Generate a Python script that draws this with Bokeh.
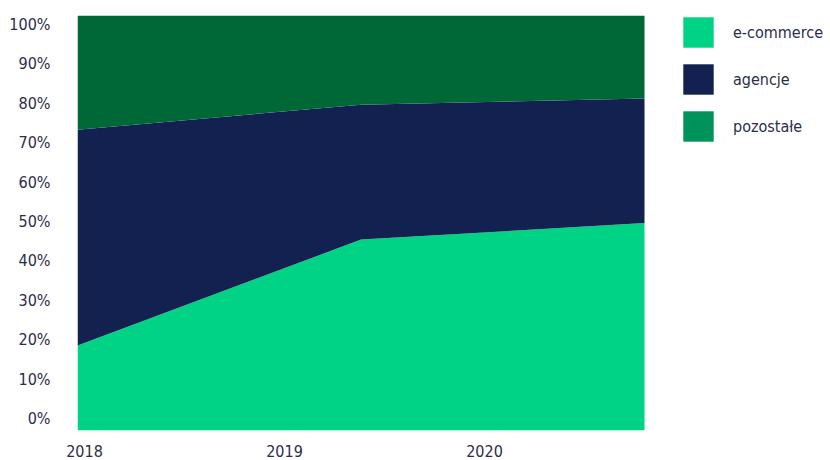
from bokeh.plotting import figure
from bokeh.models import (Range1d, LinearAxis, FixedTicker, Legend, LegendItem,
                          ColumnDataSource, PrintfTickFormatter)
from bokeh.embed import file_html
from bokeh.resources import INLINE

# ---- data ----
years = [2018, 2019, 2020]
ecommerce = [20.5, 46.0, 50.0]
agencje = [52.0, 32.5, 30.0]
pozostale = [27.5, 21.5, 20.0]
series_names = ["e-commerce", "agencje", "pozostałe"]
year_ticks = [2018, 2019, 2020]
pct_ticks = [0, 10, 20, 30, 40, 50, 60, 70, 80, 90, 100]

# ---- styles ----
area_colors = ["#00d385", "#12214f", "#006837"]
legend_colors = ["#00d385", "#12214f", "#00925b"]
text_color = "#2b2d4a"
font = "DejaVu Sans Condensed"

src = ColumnDataSource(data=dict(year=years, ecommerce=ecommerce,
                                 agencje=agencje, pozostale=pozostale))

# the frame extends to the right edge so the legend sits inside it;
# the areas end at 2020 (x = 644 px)
p = figure(width=830, height=460, output_backend="svg", toolbar_location=None,
           x_range=Range1d(2018, 2020.656), y_range=Range1d(0, 100),
           x_axis_location=None, y_axis_location=None,
           min_border_left=77, min_border_right=0, min_border_top=15,
           min_border_bottom=30)
p.outline_line_color = None
p.grid.visible = False
p.background_fill_color = "white"

p.varea_stack(stackers=["ecommerce", "agencje", "pozostale"], x="year",
              color=area_colors, source=src)

# axes (label ranges reproduce the reference's label placement)
p.extra_x_ranges = {"labels": Range1d(2017.965, 2021.73)}
p.extra_y_ranges = {"labels": Range1d(-3.05, 102.3)}

xax = LinearAxis(x_range_name="labels", ticker=FixedTicker(ticks=year_ticks))
yax = LinearAxis(y_range_name="labels", ticker=FixedTicker(ticks=pct_ticks),
                 formatter=PrintfTickFormatter(format="%d%%"))
for ax in (xax, yax):
    ax.axis_line_color = None
    ax.major_tick_line_color = None
    ax.minor_tick_line_color = None
    ax.major_tick_out = 0
    ax.major_tick_in = 0
    ax.major_label_text_font = font
    ax.major_label_text_font_size = "16px"
    ax.major_label_text_color = text_color
xax.major_label_standoff = 14
yax.major_label_standoff = 27
p.add_layout(xax, "below")
p.add_layout(yax, "left")

# legend swatches (zero-size marks that only feed the legend)
items = []
for name, c in zip(series_names, legend_colors):
    r = p.rect(x=[years[0]], y=[0], width=0, height=0, fill_color=c, line_color=None)
    items.append(LegendItem(label=name, renderers=[r]))

legend = Legend(items=items, location=(602, 285), glyph_width=38, glyph_height=38,
                label_standoff=16, spacing=9, padding=0, margin=0,
                border_line_color=None, background_fill_alpha=0,
                label_text_font=font, label_text_font_size="16px",
                label_text_color=text_color)
p.add_layout(legend)

open("out.html", "w").write(file_html(p, INLINE))
